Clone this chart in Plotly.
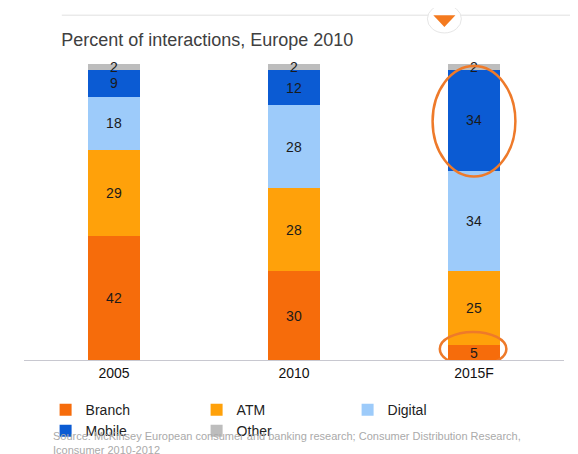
import plotly.graph_objs as go

# Chart data
years = ['2005', '2010', '2015F']
series = ['Branch', 'ATM', 'Digital', 'Mobile', 'Other']
values = {
    'Branch': [42, 30, 5],
    'ATM': [29, 28, 25],
    'Digital': [18, 28, 34],
    'Mobile': [9, 12, 34],
    'Other': [2, 2, 2],
}
colors = {
    'Branch': '#F66C0B',
    'ATM': '#FFA10A',
    'Digital': '#9DCBFA',
    'Mobile': '#0B5BD3',
    'Other': '#BDBDBD',
}

traces = []
for s in series:
    traces.append(go.Bar(
        x=years, y=values[s], name=s,
        marker=dict(color=colors[s], line=dict(width=0)),
        text=values[s], textposition='inside', insidetextanchor='middle',
        textangle=0, constraintext='none', cliponaxis=False,
        textfont=dict(color='#1a1a1a', size=14),
        width=0.29,
    ))

layout = go.Layout(
    barmode='stack',
    width=578, height=454,
    margin=dict(l=16, r=22, t=56, b=102, autoexpand=False),
    plot_bgcolor='white', paper_bgcolor='white',
    font=dict(family='Arial, Liberation Sans', color='#222'),
    title=dict(text='Percent of interactions, Europe 2010', x=0.092, xanchor='left',
               y=0.93, yanchor='middle', font=dict(size=18, color='#404040')),
    xaxis=dict(range=[-0.5, 2.5], showline=True, linecolor='#c8c8d0', linewidth=1,
               ticks='', tickfont=dict(size=14, color='#111')),
    yaxis=dict(range=[0, 100], visible=False),
    legend=dict(orientation='h', x=0.04, y=-0.115, xanchor='left', yanchor='top',
                entrywidth=106, entrywidthmode='pixels', itemwidth=30, traceorder='normal',
                font=dict(size=14, color='#222')),
    showlegend=True,
)

fig = go.Figure(data=traces, layout=layout)

# Highlight circles
fig.add_shape(type='circle', xref='x', yref='y', x0=1.77, x1=2.23, y0=62, y1=99.3,
              line=dict(color='#EE7A2A', width=2.5))
fig.add_shape(type='circle', xref='x', yref='y', x0=1.81, x1=2.18, y0=-2, y1=9.5,
              line=dict(color='#EE7A2A', width=2.5))

# Top rule and marker
fig.add_shape(type='line', xref='paper', yref='paper', x0=0.07, x1=1.05, y0=1.165, y1=1.165,
              line=dict(color='#e0e0e0', width=1))
fig.add_shape(type='circle', xref='paper', yref='paper', x0=0.747, x1=0.81, y0=1.105, y1=1.2,
              fillcolor='white', line=dict(color='#e6e6e6', width=1))
fig.add_shape(type='path', xref='paper', yref='paper',
              path='M 0.758 1.165 L 0.799 1.165 L 0.7785 1.125 Z',
              fillcolor='#F47A1F', line=dict(width=0))

fig.add_annotation(text='Source: McKinsey European consumer and banking research; Consumer Distribution Research,<br>Iconsumer 2010-2012',
                   xref='paper', yref='paper', x=0.05, y=-0.23, xanchor='left', yanchor='top',
                   showarrow=False, align='left', font=dict(size=11, color='#aaaaaa'))

fig.write_html("out.html")
